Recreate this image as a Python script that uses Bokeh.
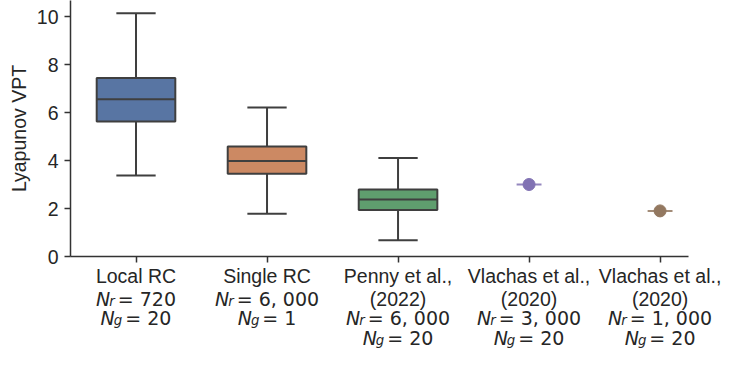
from bokeh.plotting import figure
from bokeh.models import FixedTicker, Range1d, ColumnDataSource
from bokeh.layouts import column
from bokeh.core.properties import value
from bokeh.embed import file_html
from bokeh.resources import INLINE

# ---- data ----
box_pos = [0, 1, 2]
box_lo = [3.37, 1.78, 0.68]
box_q1 = [5.62, 3.45, 1.94]
box_med = [6.55, 3.98, 2.38]
box_q3 = [7.44, 4.58, 2.79]
box_hi = [10.14, 6.21, 4.10]
box_colors = ["#5875a3", "#cc8963", "#5f9e6e"]

pt_pos = [3, 4]
pt_val = [3.0, 1.9]
pt_colors = ["#8172b3", "#937860"]

cat_first = ["Local RC", "Single RC", "Penny et al.,", "Vlachas et al.,", "Vlachas et al.,"]
cat_second = ["", "", "(2022)", "(2020)", "(2020)"]
n_r = ["720", "6, 000", "6, 000", "3, 000", "1, 000"]
n_g = ["20", "1", "20", "20", "20"]

y_ticks = [0, 2, 4, 6, 8, 10]

# ---- layout constants ----
W = 726
FRAME_L, FRAME_R = 70, 688
FRAME_H = 256
X0, X1 = -0.5, 4.217
Y1 = 10.667
AXIS_H = 33
MAIN_H = FRAME_H + AXIS_H
SUB_H = 350 - MAIN_H
TXT = "#262626"
AX = "#333333"
FS = 19.5
MFS = 19.0

p = figure(width=W, height=MAIN_H, output_backend="svg", toolbar_location=None,
           x_range=Range1d(X0, X1), y_range=Range1d(0, Y1),
           min_border_left=FRAME_L, min_border_right=W - FRAME_R,
           min_border_top=0, min_border_bottom=AXIS_H)
p.frame_align = False
p.outline_line_color = None
p.grid.visible = False

for ax in (p.xaxis[0], p.yaxis[0]):
    ax.axis_line_color = AX
    ax.axis_line_width = 1.5
    ax.major_tick_line_color = AX
    ax.major_tick_line_width = 1.5
    ax.major_tick_out = 6
    ax.major_tick_in = 0
    ax.minor_tick_line_color = None
    ax.major_label_text_color = TXT
    ax.major_label_text_font = "Liberation Sans"
    ax.major_label_text_font_size = f"{FS}px"

p.yaxis.ticker = FixedTicker(ticks=y_ticks)
p.yaxis.major_label_standoff = 6
p.yaxis.axis_label = "Lyapunov VPT"
p.yaxis.axis_label_text_font = "Liberation Sans"
p.yaxis.axis_label_text_font_size = f"{FS}px"
p.yaxis.axis_label_text_font_style = "normal"
p.yaxis.axis_label_text_color = TXT
p.yaxis.axis_label_standoff = 4

p.xaxis.ticker = FixedTicker(ticks=list(range(len(cat_first))))
p.xaxis.major_label_overrides = {i: t for i, t in enumerate(cat_first)}
p.xaxis.major_label_standoff = 2

# ---- boxes ----
EDGE = "#3f3f3f"
p.segment(x0=box_pos, y0=box_lo, x1=box_pos, y1=box_q1, line_color=EDGE, line_width=2)
p.segment(x0=box_pos, y0=box_q3, x1=box_pos, y1=box_hi, line_color=EDGE, line_width=2)
p.segment(x0=[x - 0.15 for x in box_pos], y0=box_lo, x1=[x + 0.15 for x in box_pos], y1=box_lo,
          line_color=EDGE, line_width=2)
p.segment(x0=[x - 0.15 for x in box_pos], y0=box_hi, x1=[x + 0.15 for x in box_pos], y1=box_hi,
          line_color=EDGE, line_width=2)
p.vbar(x=box_pos, width=0.6, bottom=box_q1, top=box_q3, fill_color=box_colors,
       line_color=EDGE, line_width=2)
p.segment(x0=[x - 0.3 for x in box_pos], y0=box_med, x1=[x + 0.3 for x in box_pos], y1=box_med,
          line_color=EDGE, line_width=2)

# ---- single points ----
p.segment(x0=[x - 0.095 for x in pt_pos], y0=pt_val, x1=[x + 0.095 for x in pt_pos], y1=pt_val,
          line_color=pt_colors, line_width=2, line_alpha=0.85)
p.scatter(x=pt_pos, y=pt_val, size=12, fill_color=pt_colors, line_color=pt_colors)

# ---- lower label panel (same x scale, full width so text is not clipped) ----
px_per_unit = (FRAME_R - FRAME_L) / (X1 - X0)
p2 = figure(width=W, height=SUB_H, output_backend="svg", toolbar_location=None,
            x_range=Range1d(X0 - FRAME_L / px_per_unit, X1 + (W - FRAME_R) / px_per_unit),
            y_range=Range1d(SUB_H, 0), min_border=0, x_axis_type=None, y_axis_type=None)
p2.frame_align = False
p2.outline_line_color = None
p2.grid.visible = False

# baselines of text rows below the main canvas (pixels, downward)
row_y = [9, 28.5, 48]
SUBSZ = 0.7
SUB_DROP = 2.5
EM = {"0": .636, "1": .636, "2": .636, "3": .636, "4": .636, "5": .636, "6": .636,
      "7": .636, "8": .636, "9": .636, ",": .318, " ": .318, "=": .838}


def tw(s, size):
    return sum(EM.get(c, .6) for c in s) * size


plain = dict(x=[], y=[], t=[])
nsym = dict(x=[], y=[], t=[], o=[])
subs = dict(x=[], y=[], t=[], o=[])
rest = dict(x=[], y=[], t=[], o=[])


def add_math(i, y, sub, val):
    nw = 0.748 * MFS
    sw = {"r": .411, "g": .635}[sub] * MFS * SUBSZ
    gap = 2
    rt = "= " + val
    total = nw + sw + gap + tw(rt, MFS)
    x0 = -total / 2
    nsym["x"].append(i); nsym["y"].append(y); nsym["t"].append("N"); nsym["o"].append(x0)
    subs["x"].append(i); subs["y"].append(y + SUB_DROP); subs["t"].append(sub)
    subs["o"].append(x0 + nw - 1)
    rest["x"].append(i); rest["y"].append(y); rest["t"].append(rt)
    rest["o"].append(x0 + nw + sw + gap)


for i in range(len(cat_first)):
    r = 0
    if cat_second[i]:
        plain["x"].append(i); plain["y"].append(row_y[0]); plain["t"].append(cat_second[i])
        r = 1
    add_math(i, row_y[r], "r", n_r[i])
    add_math(i, row_y[r + 1], "g", n_g[i])

p2.text(x="x", y="y", text="t", source=ColumnDataSource(plain), text_align="center",
        text_baseline="alphabetic", text_font=value("Liberation Sans"),
        text_font_size=f"{FS}px", text_color=TXT)
p2.text(x="x", y="y", text="t", x_offset="o", source=ColumnDataSource(nsym), text_align="left",
        text_baseline="alphabetic", text_font=value("DejaVu Sans"), text_font_style="italic",
        text_font_size=f"{MFS}px", text_color=TXT)
p2.text(x="x", y="y", text="t", x_offset="o", source=ColumnDataSource(subs), text_align="left",
        text_baseline="alphabetic", text_font=value("DejaVu Sans"), text_font_style="italic",
        text_font_size=f"{MFS * SUBSZ:.1f}px", text_color=TXT)
p2.text(x="x", y="y", text="t", x_offset="o", source=ColumnDataSource(rest), text_align="left",
        text_baseline="alphabetic", text_font=value("DejaVu Sans"),
        text_font_size=f"{MFS}px", text_color=TXT)

layout = column(p, p2, spacing=0)
open("out.html", "w").write(file_html(layout, INLINE))
